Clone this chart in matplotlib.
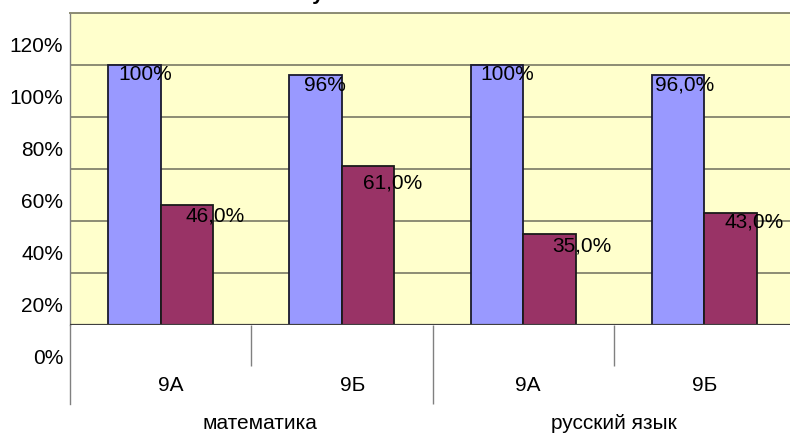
import matplotlib
matplotlib.use('Agg')
import matplotlib.pyplot as plt

plt.rcParams['font.family'] = ['Liberation Sans', 'DejaVu Sans']

# data
classes = ['9А', '9Б', '9А', '9Б']
subjects = ['математика', 'русский язык']
passed = [100, 96, 100, 96]          # blue bars
quality = [46, 61, 35, 43]           # red bars
passed_labels = ['100%', '96%', '100%', '96,0%']
quality_labels = ['46,0%', '61,0%', '35,0%', '43,0%']
y_ticks = [0, 20, 40, 60, 80, 100, 120]

# label nudges in pixels (Excel 3D placement is a bit irregular)
passed_off = [(11, -10), (9, -10), (10, -10), (7, -10)]
quality_off = [(28, -11), (24, -17), (32, -12), (23, -9)]
class_off = [10, 11, 5, 0]
subject_off = [9, 0]

FS = 15
W, H = 790, 436
fig = plt.figure(figsize=(W / 100, H / 100), dpi=100)
fig.patch.set_facecolor('white')

# plot area in pixels: x 70..795, y 13..325 (floor)
left, right, top, floor = 70, 795, 13, 325
ax = fig.add_axes([left / W, (H - floor) / H, (right - left) / W, (floor - top) / H])
ax.set_facecolor('#ffffcc')
ax.set_xlim(-0.5, 3.5)
ax.set_ylim(0, 120)

grid_col = '#8c8c74'
ax.set_yticks(y_ticks)
ax.set_xticks([])
ax.yaxis.grid(True, color=grid_col, lw=1.4)
ax.set_axisbelow(True)
ax.tick_params(axis='y', length=0, labelleft=False)
for side in ['right', 'bottom']:
    ax.spines[side].set_visible(False)
ax.spines['top'].set_color(grid_col)
ax.spines['top'].set_linewidth(1.4)
ax.spines['left'].set_color('#808080')
ax.spines['left'].set_linewidth(1.0)

w = 0.29
xs = list(range(len(classes)))
ax.bar([x - w / 2 for x in xs], passed, width=w, color='#9999ff',
       edgecolor='#1a1a2e', lw=1.3, zorder=3)
ax.bar([x + w / 2 for x in xs], quality, width=w, color='#993366',
       edgecolor='#1a1a1a', lw=1.3, zorder=3)
ax.axhline(0, color='#404040', lw=1.6, zorder=4)

# value labels
for x, v, t, (dx, dy) in zip(xs, passed, passed_labels, passed_off):
    ax.annotate(t, (x - w / 2, v), xytext=(dx, dy), textcoords='offset pixels',
                ha='center', va='center', fontsize=FS, zorder=5)
for x, v, t, (dx, dy) in zip(xs, quality, quality_labels, quality_off):
    ax.annotate(t, (x + w / 2, v), xytext=(dx, dy), textcoords='offset pixels',
                ha='center', va='center', fontsize=FS, zorder=5)

# y tick labels, shifted down like the 3D Excel wall
for v in y_ticks:
    ax.annotate(f'{v}%', (0, v), xycoords=('axes fraction', 'data'),
                xytext=(-7, -33), textcoords='offset pixels',
                ha='right', va='center', fontsize=FS)

# category axis below the floor
ph = floor - top
xt = ax.get_xaxis_transform()
ax.plot([0, 0], [0, -79 / ph], transform=ax.transAxes, color='#808080',
        lw=1.0, clip_on=False)
ax.vlines([0.5, 2.5], -41 / ph, 0, transform=xt, color='#808080', lw=1.0,
          clip_on=False)
ax.vlines([1.5], -79 / ph, 0, transform=xt, color='#808080', lw=1.0,
          clip_on=False)

for x, t, dx in zip(xs, classes, class_off):
    ax.annotate(t, (x, 0), xycoords=('data', 'axes fraction'),
                xytext=(dx, -60), textcoords='offset pixels',
                ha='center', va='center', fontsize=FS)
for i, (t, dx) in enumerate(zip(subjects, subject_off)):
    ax.annotate(t, (2 * i + 0.5, 0), xycoords=('data', 'axes fraction'),
                xytext=(dx, -98), textcoords='offset pixels',
                ha='center', va='center', fontsize=FS)

# title mostly cut off at the top edge of the picture (as in the reference)
fig.text(0.5, 1.0, 'Результаты экзаменов', ha='center', va='baseline',
         fontsize=FS, fontweight='bold')

fig.savefig('out.png', dpi=100)
